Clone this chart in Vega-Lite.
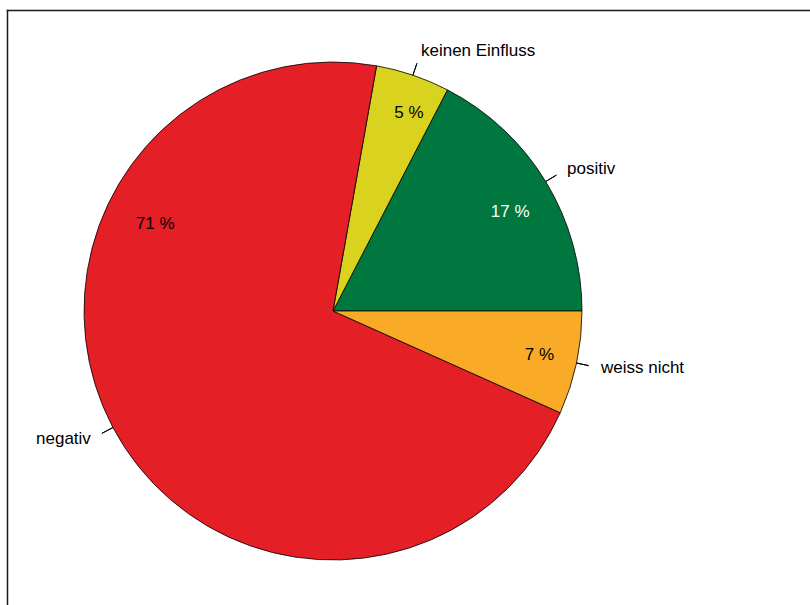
{
  "$schema": "https://vega.github.io/schema/vega-lite/v6.json",
  "width": 803,
  "height": 595,
  "autosize": {"type": "none"},
  "padding": {"left": 7, "top": 10, "right": 0, "bottom": 0},
  "background": "white",
  "config": {
    "view": {"stroke": null},
    "font": "Liberation Sans",
    "axis": {"domain": true, "domainColor": "#1a1a1a", "domainWidth": 1.5, "domainCap": "square", "ticks": false, "labels": false, "grid": false, "title": null}
  },
  "data": {
    "values": [
      {"category": "positiv", "value": 17.4, "share": "17 %", "order": 1},
      {"category": "keinen Einfluss", "value": 4.8, "share": "5 %", "order": 2},
      {"category": "negativ", "value": 71.1, "share": "71 %", "order": 3},
      {"category": "weiss nicht", "value": 6.7, "share": "7 %", "order": 4}
    ]
  },
  "transform": [
    {"stack": "value", "groupby": [], "sort": [{"field": "order", "order": "ascending"}], "as": ["v0", "v1"]},
    {"calculate": "(datum.v0 + datum.v1) / 2", "as": "mid"}
  ],
  "encoding": {
    "x": {"datum": 0.40598, "type": "quantitative", "scale": {"domain": [0, 1]}, "axis": {"orient": "top"}},
    "y": {"datum": 0.49412, "type": "quantitative", "scale": {"domain": [0, 1]}, "axis": {"orient": "left"}}
  },
  "layer": [
    {
      "mark": {"type": "arc", "outerRadius": 249, "stroke": "black", "strokeWidth": 0.8},
      "encoding": {
        "theta": {"field": "v0", "type": "quantitative", "scale": {"domain": [0, 100], "range": [1.5707963, -4.712389]}},
        "theta2": {"field": "v1"},
        "color": {
          "field": "category",
          "type": "nominal",
          "scale": {"domain": ["positiv", "keinen Einfluss", "negativ", "weiss nicht"], "range": ["#00773E", "#D9D21F", "#E41F26", "#F9AA27"]},
          "legend": null
        }
      }
    },
    {
      "mark": {"type": "arc", "innerRadius": 249, "outerRadius": 261.5, "stroke": "black", "strokeWidth": 1, "fillOpacity": 0},
      "encoding": {
        "theta": {"field": "mid", "type": "quantitative", "scale": {"domain": [0, 100], "range": [1.5707963, -4.712389]}},
        "theta2": {"field": "mid"}
      }
    },
    {
      "transform": [{"filter": "datum.category !== 'negativ'"}],
      "mark": {"type": "text", "align": "left", "baseline": "middle", "radius": 274, "fontSize": 17, "color": "black"},
      "encoding": {
        "theta": {"field": "mid", "type": "quantitative", "scale": {"domain": [0, 100], "range": [1.5707963, -4.712389]}},
        "text": {"field": "category"}
      }
    },
    {
      "transform": [{"filter": "datum.category === 'negativ'"}],
      "mark": {"type": "text", "align": "right", "baseline": "middle", "radius": 274, "fontSize": 17, "color": "black"},
      "encoding": {
        "theta": {"field": "mid", "type": "quantitative", "scale": {"domain": [0, 100], "range": [1.5707963, -4.712389]}},
        "text": {"field": "category"}
      }
    },
    {
      "transform": [{"filter": "datum.category === 'weiss nicht'"}],
      "mark": {"type": "text", "align": "center", "baseline": "middle", "radius": 211, "fontSize": 17, "color": "black"},
      "encoding": {
        "theta": {"field": "mid", "type": "quantitative", "scale": {"domain": [0, 100], "range": [1.5707963, -4.712389]}},
        "text": {"field": "share"}
      }
    },
    {
      "transform": [{"filter": "datum.category === 'positiv'"}],
      "mark": {"type": "text", "align": "center", "baseline": "middle", "theta": 1.0612, "radius": 203, "fontSize": 17, "color": "white"},
      "encoding": {
        "text": {"field": "share"}
      }
    },
    {
      "transform": [{"filter": "datum.category === 'keinen Einfluss'"}],
      "mark": {"type": "text", "align": "center", "baseline": "middle", "theta": 0.3665, "radius": 212, "fontSize": 17, "color": "black"},
      "encoding": {
        "text": {"field": "share"}
      }
    },
    {
      "transform": [{"filter": "datum.category === 'negativ'"}],
      "mark": {"type": "text", "align": "center", "baseline": "middle", "theta": 5.168, "radius": 198, "fontSize": 17, "color": "black"},
      "encoding": {
        "text": {"field": "share"}
      }
    }
  ]
}
